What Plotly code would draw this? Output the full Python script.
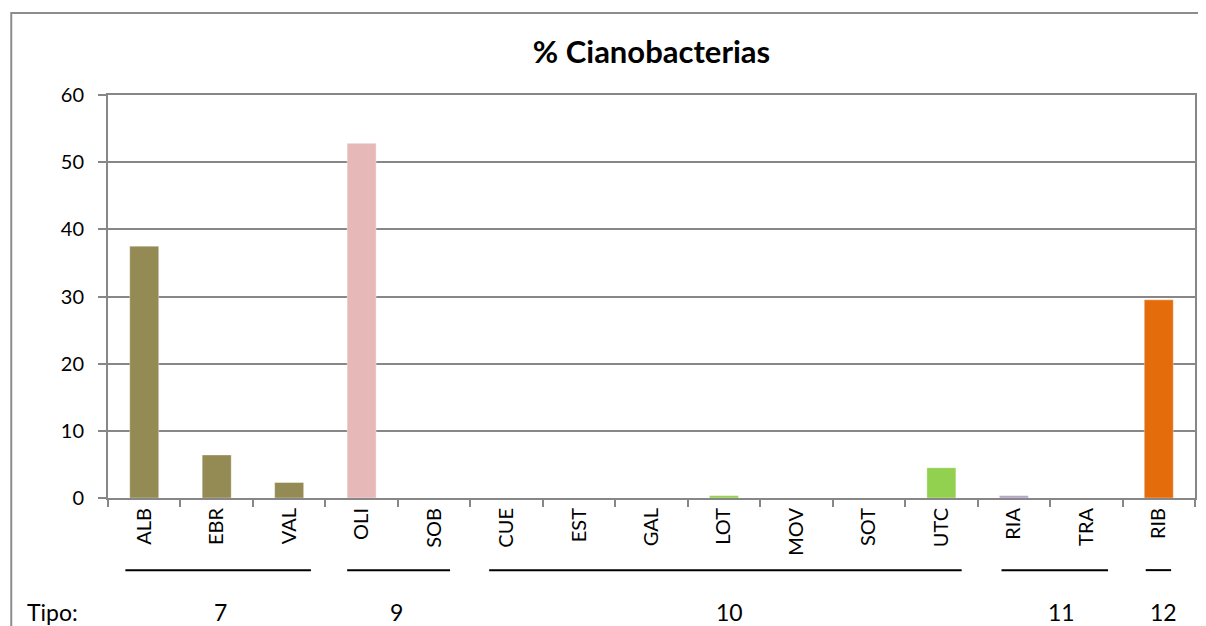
import plotly.graph_objects as go

categories = ["ALB", "EBR", "VAL", "OLI", "SOB", "CUE", "EST", "GAL", "LOT", "MOV", "SOT", "UTC", "RIA", "TRA", "RIB"]
values = [37.5, 6.4, 2.3, 52.8, 0, 0, 0, 0, 0.35, 0, 0, 4.5, 0.35, 0, 29.5]
tipo = ["7", "7", "7", "9", "9", "10", "10", "10", "10", "10", "10", "10", "11", "11", "12"]
tipo_colors = {"7": "#948A54", "9": "#E6B9B8", "10": "#92D050", "11": "#B3A2C7", "12": "#E46C0A"}
y_ticks = [0, 10, 20, 30, 40, 50, 60]

# group underline spans (category index units) and label positions
groups = ["7", "9", "10", "11", "12"]
group_spans = [(-0.26, 2.3), (2.8, 4.22), (4.76, 11.28), (11.83, 13.3), (13.82, 14.17)]
group_label_x = [1.05, 3.48, 8.07, 12.66, 14.06]

FONT = "Lato, 'Open Sans', sans-serif"
GRID = "#878787"

colors = [tipo_colors[t] for t in tipo]
x_idx = list(range(len(categories)))

fig = go.Figure(go.Bar(
    x=x_idx, y=values, width=0.4,
    marker=dict(color=colors, line=dict(color="rgba(255,255,255,0.35)", width=1)),
))

shapes = []
annotations = []
for g, (a, b), lx in zip(groups, group_spans, group_label_x):
    shapes.append(dict(type="line", xref="x", yref="paper", x0=a, x1=b, y0=-0.179, y1=-0.179,
                       line=dict(color="black", width=2)))
    annotations.append(dict(text=g, xref="x", yref="paper", x=lx, y=-0.283, showarrow=False,
                            font=dict(size=23, color="black", family=FONT), yanchor="middle"))
annotations.append(dict(text="Tipo:", xref="paper", yref="paper", x=-0.026, y=-0.283, showarrow=False,
                        xanchor="right", yanchor="middle", font=dict(size=23, color="black", family=FONT)))
# outer chart border
shapes.append(dict(type="rect", xref="paper", yref="paper", x0=-0.089, x1=1.05, y0=-0.5, y1=1.2035,
                   line=dict(color="#8C8C8C", width=2), fillcolor="rgba(0,0,0,0)", layer="below"))

# page body has an 8px default margin, so the figure is sized/placed to compensate
fig.update_layout(
    width=1198, height=618,
    margin=dict(l=100, r=9, t=87, b=128, pad=0),
    paper_bgcolor="white", plot_bgcolor="white",
    showlegend=False,
    title=dict(text="<b>% Cianobacterias</b>", x=0.5, xanchor="center", xref="paper",
               y=0.929, yanchor="middle", font=dict(size=31, color="black", family=FONT)),
    font=dict(family=FONT, color="black"),
    shapes=shapes, annotations=annotations,
)
fig.update_xaxes(
    tickmode="array", tickvals=x_idx, ticktext=categories, tickangle=-90,
    range=[-0.5, len(categories) - 0.5],
    showgrid=False, showline=True, linecolor=GRID, linewidth=2, mirror=True,
    ticks="", tickfont=dict(size=20, family=FONT, color="black"),
    ticklabelstandoff=0, zeroline=False,
)
fig.update_xaxes(minor=dict(tickmode="array", tickvals=[i - 0.5 for i in range(len(categories) + 1)],
                            ticks="outside", ticklen=7, tickcolor=GRID, tickwidth=2, showgrid=False))
fig.update_yaxes(
    range=[0, 60], tickvals=y_ticks, showgrid=True, gridcolor=GRID, gridwidth=2,
    showline=True, linecolor=GRID, linewidth=2, mirror=True,
    ticks="outside", ticklen=8, tickcolor=GRID, tickwidth=2, ticklabelstandoff=10,
    tickfont=dict(size=20, family=FONT, color="black"), zeroline=False,
)

fig.write_html("out.html")
